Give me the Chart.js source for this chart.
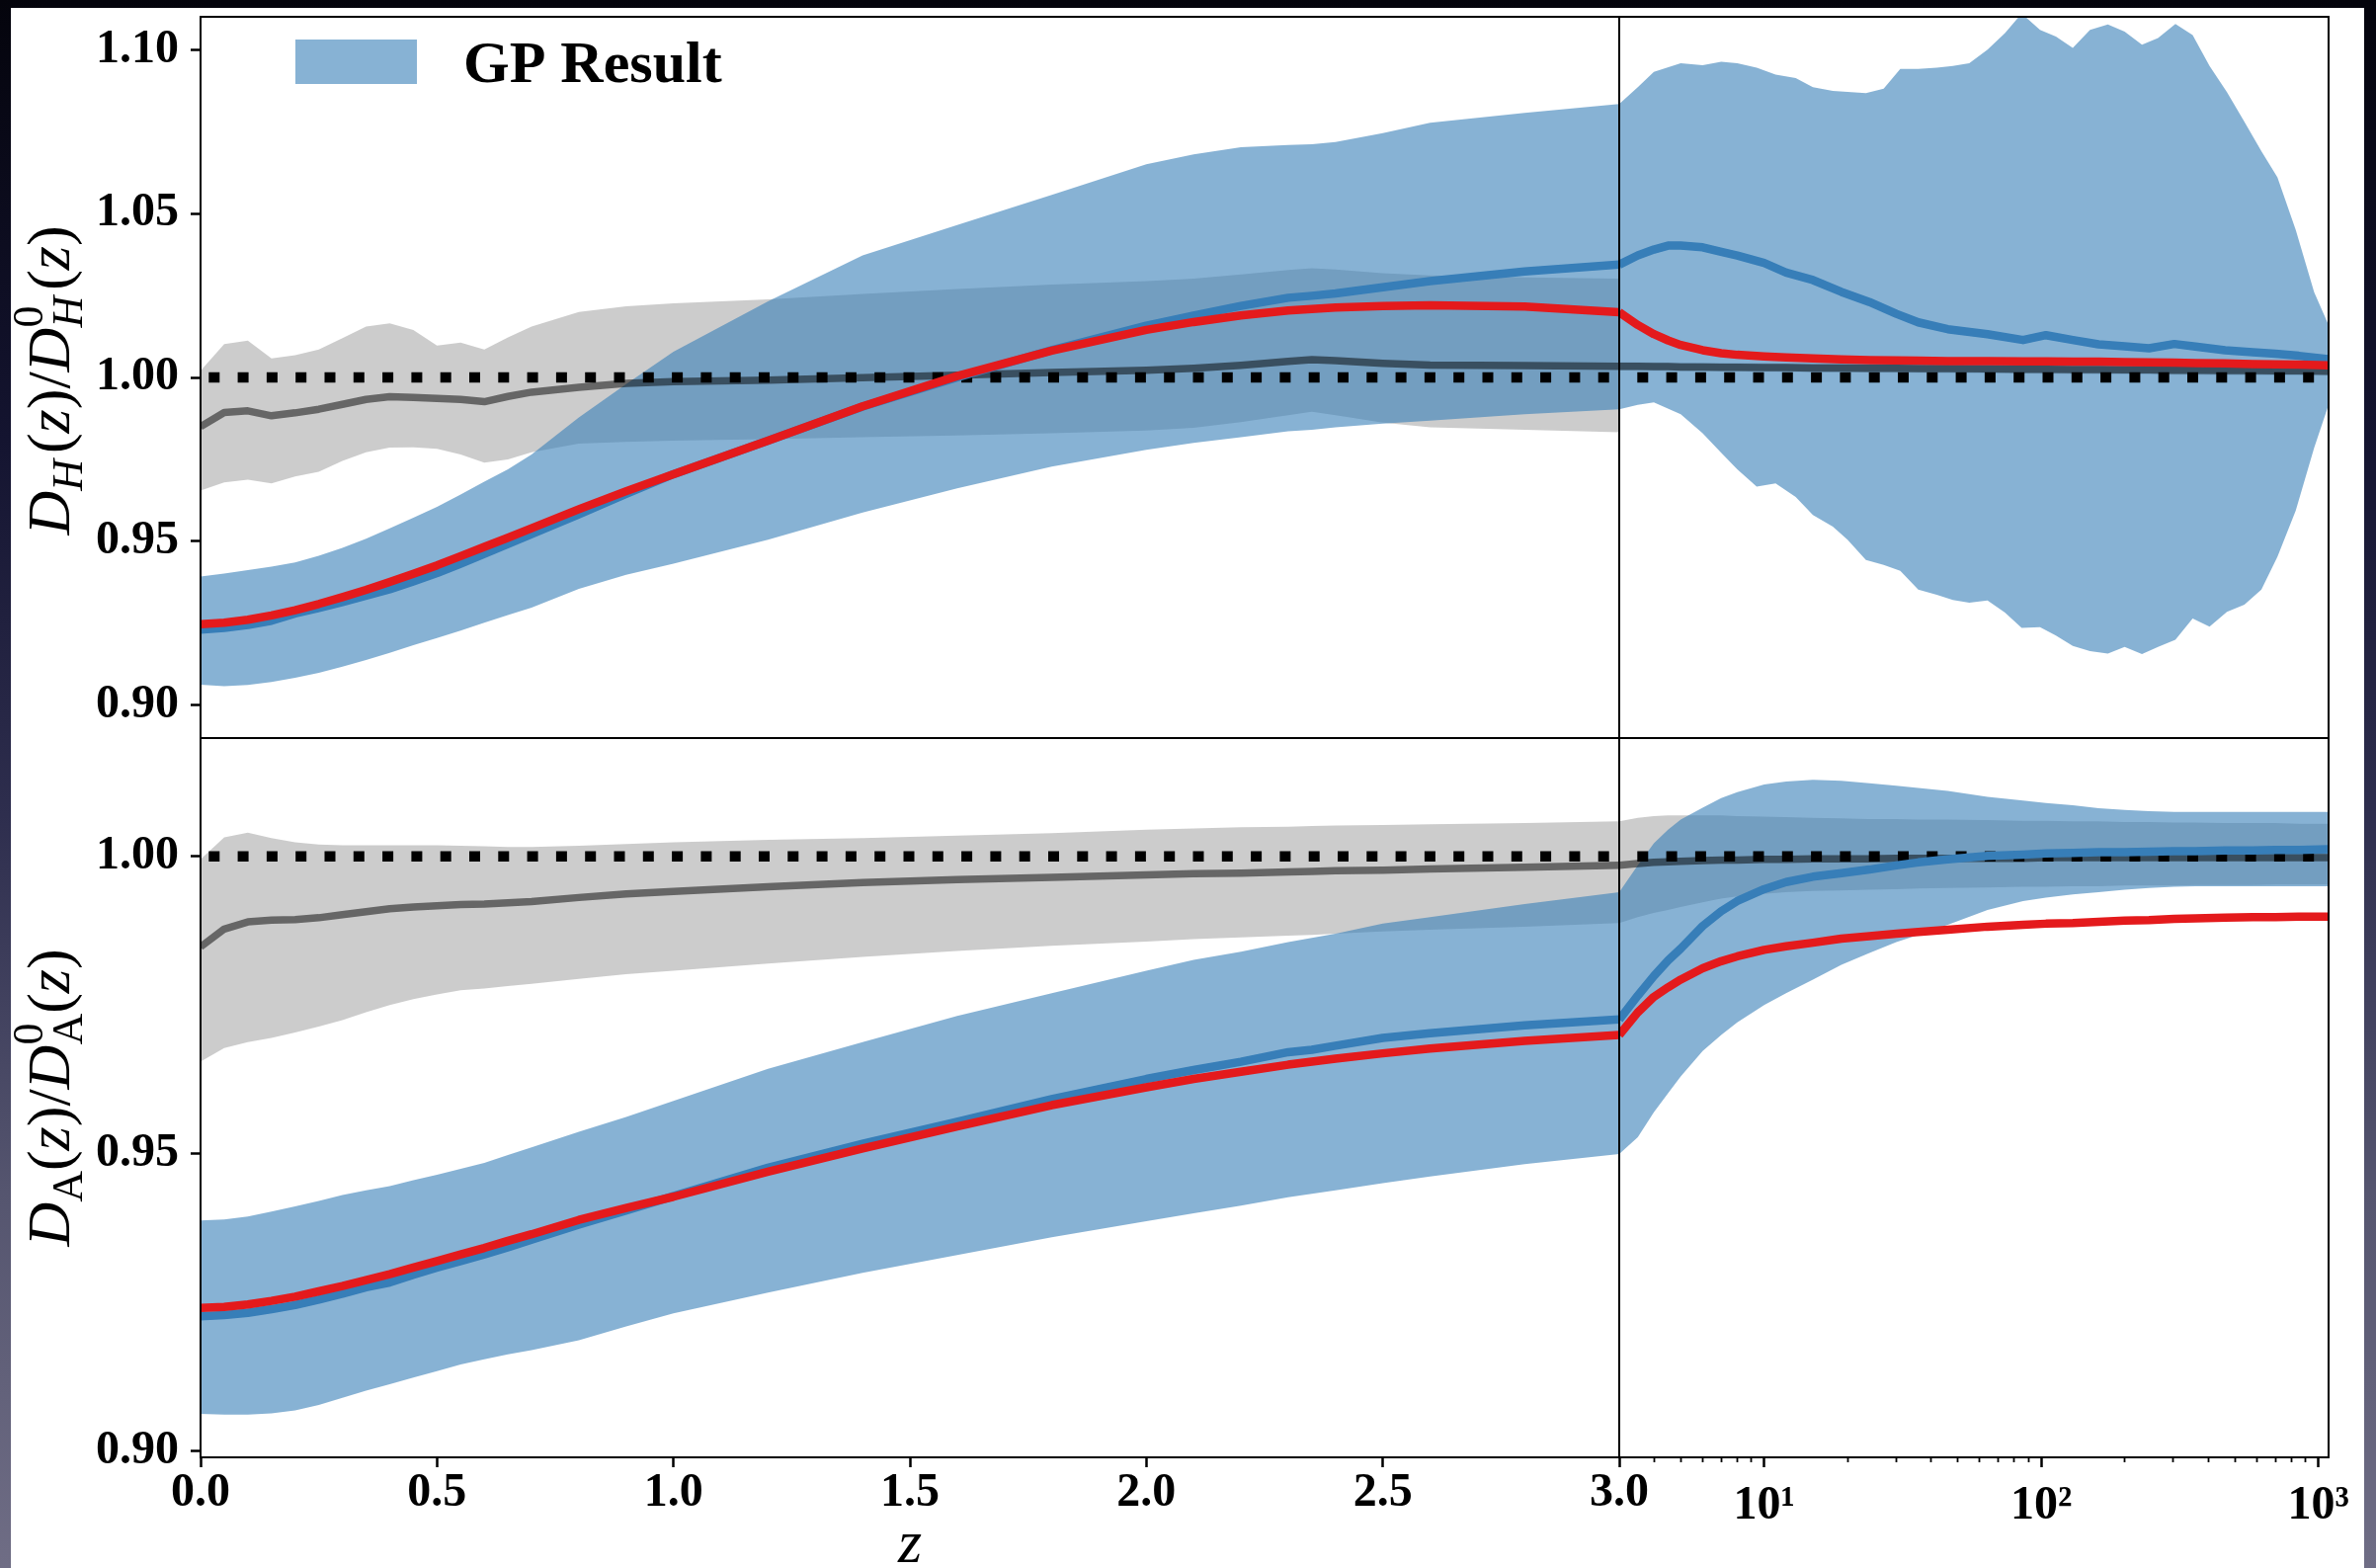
<!DOCTYPE html>
<html>
<head>
<meta charset="utf-8">
<script src="https://cdn.jsdelivr.net/npm/chart.js@4.4.1/dist/chart.umd.min.js"></script>
<style>
  html, body { margin: 0; padding: 0; width: 2405px; height: 1587px; overflow: hidden; }
  body { background: linear-gradient(#04040c 0%, #141430 28%, #2e2e4e 52%, #55556f 76%, #6f6d85 100%); }
  #paper { position: absolute; left: 11px; top: 8px; width: 2382px; height: 1579px; background: #fff; }
  canvas { position: absolute; left: 0; top: 0; }
</style>
</head>
<body>
<div id="paper"></div>
<canvas id="dhLin" width="2405" height="1587"></canvas>
<canvas id="dhLog" width="2405" height="1587"></canvas>
<canvas id="daLin" width="2405" height="1587"></canvas>
<canvas id="daLog" width="2405" height="1587"></canvas>
<script>
// redshift grids
var zLin = [0, 0.05, 0.1, 0.15, 0.2, 0.25, 0.3, 0.35, 0.4, 0.45, 0.5, 0.55, 0.6, 0.65, 0.7,
  0.8, 0.9, 1.0, 1.2, 1.4, 1.6, 1.8, 2.0, 2.1, 2.2, 2.3, 2.35, 2.4, 2.5, 2.6, 2.8, 3.0];
var zLog = [3, 3.5, 4, 5, 6, 7, 8, 9.4, 11, 13, 15, 17.7, 20, 23.3, 27, 31, 36, 42, 48, 55,
  64, 74, 85, 99, 113, 130, 150, 174, 200, 231, 264, 305, 352, 405, 468, 541, 623, 712, 829, 966, 1089];
var zLogLine = [3, 3.5, 4, 4.5, 5, 6, 7, 8, 10, 12, 15, 19, 24, 30, 36, 46, 64, 86, 104, 130,
  161, 200, 245, 302, 360, 461, 580, 700, 850, 1089];
var zLogCoarse = [3, 10, 30, 100, 300, 1089];

// D_H(z)/D_H^0(z), linear part
var dhGrayHiLin = [1.002, 1.0102, 1.0112, 1.0058, 1.0068, 1.0085, 1.012, 1.0155, 1.0165, 1.0145, 1.0097, 1.0106, 1.0085, 1.0122, 1.0155,
  1.02, 1.0217, 1.0226, 1.0238, 1.0255, 1.027, 1.0283, 1.0294, 1.0301, 1.0314, 1.0328, 1.0333, 1.0329, 1.0318, 1.0311, 1.0305, 1.0301];
var dhGrayLoLin = [0.9655, 0.968, 0.9688, 0.9677, 0.9698, 0.9712, 0.9745, 0.9772, 0.9786, 0.9787, 0.9782, 0.9765, 0.974, 0.975, 0.9772,
  0.9798, 0.9803, 0.9807, 0.9812, 0.9818, 0.9823, 0.983, 0.9838, 0.9846, 0.9864, 0.9885, 0.9895, 0.9885, 0.9862, 0.9848, 0.984, 0.9833];
var dhGrayMidLin = [0.985, 0.9893, 0.9898, 0.9883, 0.9892, 0.9903, 0.9918, 0.9933, 0.9941, 0.9939, 0.9936, 0.9933, 0.9926, 0.9942, 0.9955,
  0.997, 0.9982, 0.9987, 0.9992, 0.9999, 1.0007, 1.0015, 1.0022, 1.0028, 1.0037, 1.0049, 1.0054, 1.0051, 1.0043, 1.0038, 1.0036, 1.0034];
var dhBlueHiLin = [0.9393, 0.9402, 0.9412, 0.9423, 0.9436, 0.9456, 0.948, 0.9508, 0.954, 0.9572, 0.9605, 0.9643, 0.9682, 0.972, 0.9765,
  0.9878, 0.998, 1.0078, 1.0232, 1.0372, 1.0465, 1.0557, 1.065, 1.068, 1.0702, 1.0709, 1.0711, 1.0718, 1.0745, 1.0777, 1.0807, 1.0834];
var dhBlueLoLin = [0.9063, 0.9058, 0.9062, 0.9071, 0.9084, 0.9099, 0.9118, 0.9138, 0.916, 0.9183, 0.9205, 0.9228, 0.9252, 0.9275, 0.9298,
  0.9355, 0.9398, 0.9432, 0.9505, 0.9588, 0.9662, 0.9728, 0.9779, 0.98, 0.9818, 0.9836, 0.984, 0.9848, 0.9859, 0.9868, 0.9888, 0.9903];
var dhBlueMidLin = [0.9231, 0.9236, 0.9245, 0.9258, 0.928, 0.9297, 0.9315, 0.9334, 0.9354, 0.9378, 0.9403, 0.9432, 0.9462, 0.9492, 0.9522,
  0.9582, 0.9645, 0.9705, 0.9807, 0.9911, 1.0, 1.0083, 1.0158, 1.0189, 1.0218, 1.0243, 1.0249, 1.0256, 1.0275, 1.0294, 1.0323, 1.0344];
var dhRedLin = [0.9247, 0.9252, 0.9261, 0.9274, 0.929, 0.9309, 0.933, 0.9352, 0.9376, 0.9401, 0.9427, 0.9455, 0.9483, 0.9511, 0.954,
  0.9598, 0.9653, 0.9705, 0.9807, 0.9912, 1.0004, 1.0082, 1.0145, 1.0169, 1.0189, 1.0204, 1.0209, 1.0213, 1.0218, 1.022, 1.0216, 1.0199];

// D_H(z)/D_H^0(z), log part
var dhBlueHiLog = [1.0834, 1.0885, 1.0932, 1.0958, 1.0952, 1.0963, 1.0958, 1.0945, 1.0924, 1.0913,
  1.0885, 1.0874, 1.0871, 1.0867, 1.0881, 1.0941, 1.0941, 1.0945, 1.095, 1.0958,
  1.1, 1.105, 1.111, 1.106, 1.104, 1.1005, 1.106, 1.1077, 1.1055, 1.1015,
  1.1035, 1.1078, 1.1044, 1.095, 1.087, 1.078, 1.069, 1.061, 1.045, 1.026, 1.016];
var dhBlueLoLog = [0.9903, 0.9916, 0.9924, 0.9888, 0.983, 0.977, 0.972, 0.9667, 0.9677, 0.9635,
  0.958, 0.9545, 0.9505, 0.9443, 0.9428, 0.941, 0.9353, 0.9337, 0.9321, 0.9313,
  0.932, 0.9283, 0.9236, 0.9238, 0.9213, 0.9181, 0.9165, 0.9158, 0.9178, 0.9156,
  0.9178, 0.92, 0.9265, 0.924, 0.9285, 0.9307, 0.9353, 0.9453, 0.9594, 0.9785, 0.9916];
var dhBlueMidLog = [1.0344, 1.0372, 1.039, 1.0402, 1.0402, 1.0397, 1.0383, 1.0372, 1.0349, 1.032,
  1.0297, 1.0261, 1.023, 1.0194, 1.0168, 1.0147, 1.0132, 1.0114, 1.0129, 1.0114,
  1.0101, 1.0095, 1.0089, 1.0102, 1.0094, 1.0083, 1.0077, 1.0072, 1.0066, 1.0056];
var dhRedLog = [1.0199, 1.016, 1.0132, 1.0113, 1.0099, 1.0083, 1.0074, 1.0069, 1.0064, 1.0061,
  1.0058, 1.0055, 1.0053, 1.0052, 1.0051, 1.005, 1.005, 1.0049, 1.0049, 1.0048,
  1.0048, 1.0047, 1.0046, 1.0045, 1.0044, 1.0043, 1.0041, 1.004, 1.0039, 1.0037];
var dhGrayMidLog = [1.0034, 1.0034, 1.0033, 1.0033, 1.0032, 1.0032, 1.0031, 1.0031, 1.003, 1.003,
  1.0029, 1.0029, 1.0028, 1.0028, 1.0027, 1.0027, 1.0026, 1.0025, 1.0025, 1.0024,
  1.0024, 1.0023, 1.0023, 1.0022, 1.0022, 1.0021, 1.0021, 1.002, 1.002, 1.0019];
var dhGrayHiLog = [1.0047, 1.0044, 1.0042, 1.0039, 1.0036, 1.0033];
var dhGrayLoLog = [1.0021, 1.0017, 1.0014, 1.0011, 1.0008, 1.0005];

// D_A(z)/D_A^0(z), linear part
var daGrayHiLin = [0.9995, 1.0032, 1.004, 1.0031, 1.0024, 1.002, 1.0019, 1.0019, 1.0019, 1.0019, 1.0019, 1.0018, 1.0017, 1.0016, 1.0016,
  1.0018, 1.0021, 1.0024, 1.0028, 1.0031, 1.0035, 1.0039, 1.0045, 1.0047, 1.0049, 1.005, 1.0051, 1.0052, 1.0053, 1.0054, 1.0056, 1.0059];
var daGrayLoLin = [0.9655, 0.9678, 0.9688, 0.9695, 0.9704, 0.9714, 0.9725, 0.9738, 0.975, 0.976, 0.9768, 0.9775, 0.9778, 0.9782, 0.9786,
  0.9794, 0.9802, 0.9808, 0.982, 0.9831, 0.9841, 0.985, 0.9857, 0.9861, 0.9864, 0.9867, 0.9868, 0.987, 0.9874, 0.9877, 0.9882, 0.9888];
var daGrayMidLin = [0.9848, 0.9878, 0.989, 0.9893, 0.9894, 0.9897, 0.9902, 0.9907, 0.9912, 0.9915, 0.9917, 0.9919, 0.992, 0.9922, 0.9924,
  0.9931, 0.9937, 0.9941, 0.9949, 0.9956, 0.9961, 0.9965, 0.9969, 0.9971, 0.9972, 0.9974, 0.9975, 0.9976, 0.9977, 0.9979, 0.9982, 0.9985];
var daBlueHiLin = [0.9388, 0.939, 0.9395, 0.9403, 0.9412, 0.9421, 0.9431, 0.9439, 0.9446, 0.9456, 0.9465, 0.9475, 0.9485, 0.9498, 0.9511,
  0.9537, 0.9562, 0.9589, 0.9643, 0.9688, 0.9732, 0.977, 0.9808, 0.9826, 0.984, 0.9856, 0.9863, 0.987, 0.9887, 0.9898, 0.992, 0.994];
var daBlueLoLin = [0.9063, 0.9062, 0.9062, 0.9064, 0.9069, 0.9078, 0.909, 0.9102, 0.9113, 0.9124, 0.9135, 0.9146, 0.9155, 0.9163, 0.917,
  0.9187, 0.921, 0.9232, 0.9267, 0.93, 0.933, 0.936, 0.9387, 0.94, 0.9413, 0.9427, 0.9433, 0.9439, 0.9451, 0.9462, 0.9483, 0.95];
var daBlueMidLin = [0.9227, 0.9229, 0.9233, 0.9239, 0.9246, 0.9255, 0.9265, 0.9276, 0.9284, 0.9297, 0.9309, 0.932, 0.9331, 0.9343, 0.9356,
  0.9381, 0.9405, 0.9429, 0.9477, 0.9517, 0.9554, 0.9592, 0.9626, 0.9641, 0.9655, 0.9671, 0.9675, 0.9682, 0.9695, 0.9703, 0.9716, 0.9726];
var daRedLin = [0.9241, 0.9243, 0.9247, 0.9253, 0.926, 0.9269, 0.9278, 0.9288, 0.9298, 0.9309, 0.932, 0.9331, 0.9342, 0.9354, 0.9365,
  0.9389, 0.9409, 0.9428, 0.947, 0.9509, 0.9546, 0.9582, 0.9612, 0.9626, 0.9638, 0.965, 0.9655, 0.966, 0.9669, 0.9677, 0.969, 0.97];

// D_A(z)/D_A^0(z), log part
var daGrayHiLog = [1.0059, 1.0065, 1.0068, 1.0069, 1.0069, 1.0069, 1.0069, 1.0068, 1.0067, 1.0066,
  1.0065, 1.0064, 1.0063, 1.0063, 1.0062, 1.0062, 1.0061, 1.006, 1.006, 1.0059,
  1.0059, 1.0058, 1.0058, 1.0057, 1.0057, 1.0056, 1.0056, 1.0056, 1.0055, 1.0055];
var daGrayLoLog = [0.9888, 0.9898, 0.9905, 0.991, 0.9915, 0.9923, 0.9929, 0.9933, 0.9937, 0.994,
  0.9942, 0.9943, 0.9944, 0.9945, 0.9946, 0.9947, 0.9948, 0.9949, 0.9949, 0.995,
  0.995, 0.9951, 0.9951, 0.9951, 0.9952, 0.9952, 0.9952, 0.9953, 0.9953, 0.9953];
var daGrayMidLog = [0.9985, 0.9988, 0.999, 0.9991, 0.9992, 0.9993, 0.9994, 0.9994, 0.9995, 0.9995,
  0.9996, 0.9996, 0.9996, 0.9997, 0.9997, 0.9997, 0.9997, 0.9997, 0.9998, 0.9998,
  0.9998, 0.9998, 0.9998, 0.9998, 0.9998, 0.9998, 0.9998, 0.9998, 0.9998, 0.9998];
var daBlueHiLog = [0.994, 0.9985, 1.0022, 1.0045, 1.0062, 1.0082, 1.0098, 1.0108, 1.0121, 1.0126,
  1.0129, 1.0127, 1.0123, 1.0119, 1.0115, 1.011, 1.01, 1.0094, 1.009, 1.0086,
  1.0081, 1.0078, 1.0076, 1.0075, 1.0075, 1.0075, 1.0075, 1.0075, 1.0075, 1.0075];
var daBlueLoLog = [0.95, 0.9528, 0.957, 0.9602, 0.963, 0.9673, 0.97, 0.9721, 0.975, 0.977,
  0.9793, 0.9818, 0.9838, 0.9856, 0.9868, 0.9885, 0.991, 0.9925, 0.9931, 0.9936,
  0.994, 0.9944, 0.9947, 0.9949, 0.995, 0.995, 0.995, 0.995, 0.995, 0.995];
var daBlueMidLog = [0.9726, 0.9766, 0.9799, 0.9825, 0.9845, 0.9883, 0.9908, 0.9925, 0.9945, 0.9957,
  0.9966, 0.9972, 0.9978, 0.9985, 0.999, 0.9995, 1.0001, 1.0003, 1.0005, 1.0006,
  1.0007, 1.0007, 1.0008, 1.0009, 1.0009, 1.001, 1.001, 1.0011, 1.0011, 1.0012];
var daRedLog = [0.97, 0.9738, 0.9764, 0.978, 0.9793, 0.9812, 0.9824, 0.9832, 0.9843, 0.9849,
  0.9855, 0.9862, 0.9866, 0.987, 0.9873, 0.9877, 0.9882, 0.9885, 0.9887, 0.9888,
  0.989, 0.9892, 0.9893, 0.9895, 0.9896, 0.9897, 0.9898, 0.9898, 0.9899, 0.9899];

var refLevel = 1.0;

// ticks
var dhTicks = [0.90, 0.95, 1.00, 1.05, 1.10];
var daTicks = [0.90, 0.95, 1.00];
var zTicks = [0, 0.5, 1.0, 1.5, 2.0, 2.5, 3.0];
var logMajor = [10, 100, 1000];
var logMajorLabels = ['10\u00b9', '10\u00b2', '10\u00b3'];
var logMinor = [4, 5, 6, 7, 8, 9, 20, 30, 40, 50, 60, 70, 80, 90, 200, 300, 400, 500, 600, 700, 800, 900];

// layout of the figure (pixels)
var W = 2405, H = 1587;
var LEFT = 203, SPLIT = 1639, RIGHT = 2357, TOP = 17, MID = 747, BOTTOM = 1475;
var Y_AXIS_W = 140, X_AXIS_H = H - BOTTOM;

var serif = "'Liberation Serif', 'Times New Roman', serif";
var tickFont = { family: serif, size: 48, weight: 'bold' };

var blueBand = 'rgba(55, 126, 184, 0.6)';
var grayBand = 'rgba(0, 0, 0, 0.2)';
var grayLine = 'rgba(0, 0, 0, 0.5)';
var blueLine = '#377eb8';
var redLine = '#e41a1c';

function pts(zs, ys) {
  return zs.map(function (z, i) { return { x: z, y: ys[i] }; });
}

function band(zs, hi, lo, color, order, label) {
  return [
    { label: label || '', data: pts(zs, hi), fill: '+1', backgroundColor: color, borderColor: 'transparent', borderWidth: 0, pointRadius: 0, order: order, clip: 0 },
    { label: '', data: pts(zs, lo), fill: false, borderColor: 'transparent', borderWidth: 0, pointRadius: 0, order: order, clip: 0 }
  ];
}

function line(zs, ys, color, width, order) {
  return { label: '', data: pts(zs, ys), borderColor: color, borderWidth: width, pointRadius: 0, fill: false,
    tension: 0, borderJoinStyle: 'round', order: order, clip: 0 };
}

function dotted(zs, offset) {
  var d = line([zs[0], zs[zs.length - 1]], [refLevel, refLevel], '#000', 10.5, 2);
  d.borderDash = [11, 18.3];
  d.borderDashOffset = offset;
  d.borderJoinStyle = 'miter';
  return d;
}

var framePlugin = {
  id: 'frame',
  afterDraw: function (chart) {
    var ctx = chart.ctx, a = chart.chartArea;
    ctx.save();
    ctx.strokeStyle = '#000';
    ctx.lineWidth = 2;
    ctx.strokeRect(a.left, a.top, a.right - a.left, a.bottom - a.top);
    ctx.restore();
  }
};

// rotated y-axis title with sub/superscripts
function yTitle(parts, shift) {
  return {
    id: 'yTitle',
    afterDraw: function (chart) {
      var ctx = chart.ctx, a = chart.chartArea;
      ctx.save();
      ctx.translate(70, (a.top + a.bottom) / 2 + shift);
      ctx.rotate(-Math.PI / 2);
      ctx.fillStyle = '#000';
      ctx.textBaseline = 'alphabetic';
      var total = 0;
      parts.forEach(function (p) { ctx.font = p.font; if (!p.stack) total += ctx.measureText(p.t).width + (p.pad || 0); });
      var x = -total / 2;
      parts.forEach(function (p) {
        ctx.font = p.font;
        ctx.fillText(p.t, x, p.dy || 0);
        if (!p.stack) x += ctx.measureText(p.t).width + (p.pad || 0);
      });
      ctx.restore();
    }
  };
}

function legendBox(label) {
  return {
    id: 'gpLegend',
    afterDatasetsDraw: function (chart) {
      var ds = chart.data.datasets.filter(function (d) { return d.label === label; })[0];
      var ctx = chart.ctx, a = chart.chartArea;
      ctx.save();
      ctx.fillStyle = ds.backgroundColor;
      ctx.fillRect(a.left + 96, a.top + 23, 123, 45);
      ctx.fillStyle = '#000';
      ctx.font = 'bold 60px ' + serif;
      ctx.textBaseline = 'alphabetic';
      ctx.fillText(ds.label, a.left + 266, a.top + 66);
      ctx.restore();
    }
  };
}

var big = '62px ' + serif, bigIt = 'italic 62px ' + serif;
var small = '44px ' + serif, smallIt = 'italic 44px ' + serif;
var dhTitle = [
  { t: 'D', font: bigIt }, { t: 'H', font: smallIt, dy: 13, pad: 6 },
  { t: '(', font: big }, { t: 'z', font: bigIt }, { t: ')', font: big }, { t: '/', font: big },
  { t: 'D', font: bigIt }, { t: '0', font: small, dy: -27, stack: true }, { t: 'H', font: smallIt, dy: 13, pad: 6 },
  { t: '(', font: big }, { t: 'z', font: bigIt }, { t: ')', font: big }
];
var daTitle = [
  { t: 'D', font: bigIt }, { t: 'A', font: small, dy: 13 },
  { t: '(', font: big }, { t: 'z', font: bigIt }, { t: ')', font: big }, { t: '/', font: big },
  { t: 'D', font: bigIt }, { t: '0', font: small, dy: -27, stack: true }, { t: 'A', font: small, dy: 13 },
  { t: '(', font: big }, { t: 'z', font: bigIt }, { t: ')', font: big }
];

function yScale(ticksArr, min, max, show) {
  return {
    type: 'linear', min: min, max: max, bounds: 'data', display: show,
    afterBuildTicks: function (s) { s.ticks = ticksArr.map(function (v) { return { value: v }; }); },
    afterFit: function (s) { if (show) s.width = Y_AXIS_W; s.paddingTop = 0; s.paddingBottom = 0; },
    border: { display: false },
    grid: { drawOnChartArea: false, tickLength: 10, tickWidth: 2.5, tickColor: '#000' },
    ticks: { font: tickFont, color: '#000', padding: 12, callback: function (v) { return v.toFixed(2); } }
  };
}

function xLinScale(show) {
  return {
    type: 'linear', min: zTicks[0], max: zTicks[zTicks.length - 1], bounds: 'data', display: show,
    afterBuildTicks: function (s) { s.ticks = zTicks.map(function (v) { return { value: v }; }); },
    afterFit: function (s) { if (show) s.height = X_AXIS_H; s.paddingLeft = 0; s.paddingRight = 0; },
    border: { display: false },
    grid: { drawOnChartArea: false, tickLength: 10, tickWidth: 2.5, tickColor: '#000' },
    ticks: { font: tickFont, color: '#000', padding: -2, autoSkip: false, maxRotation: 0,
      callback: function (v) { return v.toFixed(1); } },
    title: { display: show, text: 'z', color: '#000', font: { family: serif, style: 'italic', size: 62, lineHeight: 1 },
      padding: { top: 0, bottom: -9 } }
  };
}

function xLogScale(show) {
  return {
    type: 'logarithmic', min: zLogLine[0], max: zLogLine[zLogLine.length - 1], bounds: 'data', display: show,
    afterBuildTicks: function (s) {
      var t = logMajor.map(function (v) { return { value: v, major: true }; })
        .concat(logMinor.map(function (v) { return { value: v, major: false }; }));
      t.sort(function (a, b) { return a.value - b.value; });
      s.ticks = t;
    },
    afterFit: function (s) { if (show) s.height = X_AXIS_H; s.paddingLeft = 0; s.paddingRight = 0; },
    border: { display: false },
    grid: { drawOnChartArea: false, tickLength: 10, tickColor: '#000',
      tickWidth: function (c) { return c.tick && c.tick.major ? 2.5 : 1.8; },
      tickBorderDash: function (c) { return c.tick && c.tick.major ? [] : [5, 40]; } },
    ticks: { font: tickFont, color: '#000', padding: 11, autoSkip: false, maxRotation: 0,
      callback: function (v) { var i = logMajor.indexOf(v); return i < 0 ? '' : logMajorLabels[i]; } }
  };
}

function options(padding, xs, ys) {
  return {
    responsive: false, animation: false, devicePixelRatio: 1, events: [],
    layout: { padding: padding },
    plugins: { legend: { display: false }, tooltip: { enabled: false }, title: { display: false } },
    scales: { x: xs, y: ys }
  };
}

// top left: D_H, 0 <= z <= 3
new Chart(document.getElementById('dhLin'), {
  type: 'line',
  data: {
    datasets: [].concat(
      band(zLin, dhGrayHiLin, dhGrayLoLin, grayBand, 5),
      band(zLin, dhBlueHiLin, dhBlueLoLin, blueBand, 4, 'GP Result'),
      [line(zLin, dhGrayMidLin, grayLine, 7.5, 3),
       dotted(zLin, 21),
       line(zLin, dhBlueMidLin, blueLine, 8.5, 1),
       line(zLin, dhRedLin, redLine, 8.5, 0)]
    )
  },
  options: options({ left: LEFT - Y_AXIS_W, right: W - SPLIT, top: TOP, bottom: H - MID },
    xLinScale(false), yScale(dhTicks, 0.89, 1.11, true)),
  plugins: [framePlugin, yTitle(dhTitle, 3), legendBox('GP Result')]
});

// top right: D_H, 3 <= z <= 1089
new Chart(document.getElementById('dhLog'), {
  type: 'line',
  data: {
    datasets: [].concat(
      band(zLogCoarse, dhGrayHiLog, dhGrayLoLog, grayBand, 5),
      band(zLog, dhBlueHiLog, dhBlueLoLog, blueBand, 4),
      [line(zLogLine, dhGrayMidLog, grayLine, 7.5, 3),
       dotted(zLogLine, 11),
       line(zLogLine, dhBlueMidLog, blueLine, 8.5, 1),
       line(zLogLine, dhRedLog, redLine, 8.5, 0)]
    )
  },
  options: options({ left: SPLIT, right: W - RIGHT, top: TOP, bottom: H - MID },
    xLogScale(false), yScale(dhTicks, 0.89, 1.11, false)),
  plugins: [framePlugin]
});

// bottom left: D_A, 0 <= z <= 3
new Chart(document.getElementById('daLin'), {
  type: 'line',
  data: {
    datasets: [].concat(
      band(zLin, daGrayHiLin, daGrayLoLin, grayBand, 5),
      band(zLin, daBlueHiLin, daBlueLoLin, blueBand, 4),
      [line(zLin, daGrayMidLin, grayLine, 7.5, 3),
       dotted(zLin, 21),
       line(zLin, daBlueMidLin, blueLine, 8.5, 1),
       line(zLin, daRedLin, redLine, 8.5, 0)]
    )
  },
  options: options({ left: LEFT - Y_AXIS_W, right: W - SPLIT, top: MID, bottom: 0 },
    xLinScale(true), yScale(daTicks, 0.899, 1.0199, true)),
  plugins: [framePlugin, yTitle(daTitle, 0)]
});

// bottom right: D_A, 3 <= z <= 1089
new Chart(document.getElementById('daLog'), {
  type: 'line',
  data: {
    datasets: [].concat(
      band(zLogLine, daGrayHiLog, daGrayLoLog, grayBand, 5),
      band(zLogLine, daBlueHiLog, daBlueLoLog, blueBand, 4),
      [line(zLogLine, daGrayMidLog, grayLine, 7.5, 3),
       dotted(zLogLine, 11),
       line(zLogLine, daBlueMidLog, blueLine, 8.5, 1),
       line(zLogLine, daRedLog, redLine, 8.5, 0)]
    )
  },
  options: options({ left: SPLIT, right: W - RIGHT, top: MID, bottom: 0 },
    xLogScale(true), yScale(daTicks, 0.899, 1.0199, false)),
  plugins: [framePlugin]
});
</script>
</body>
</html>
